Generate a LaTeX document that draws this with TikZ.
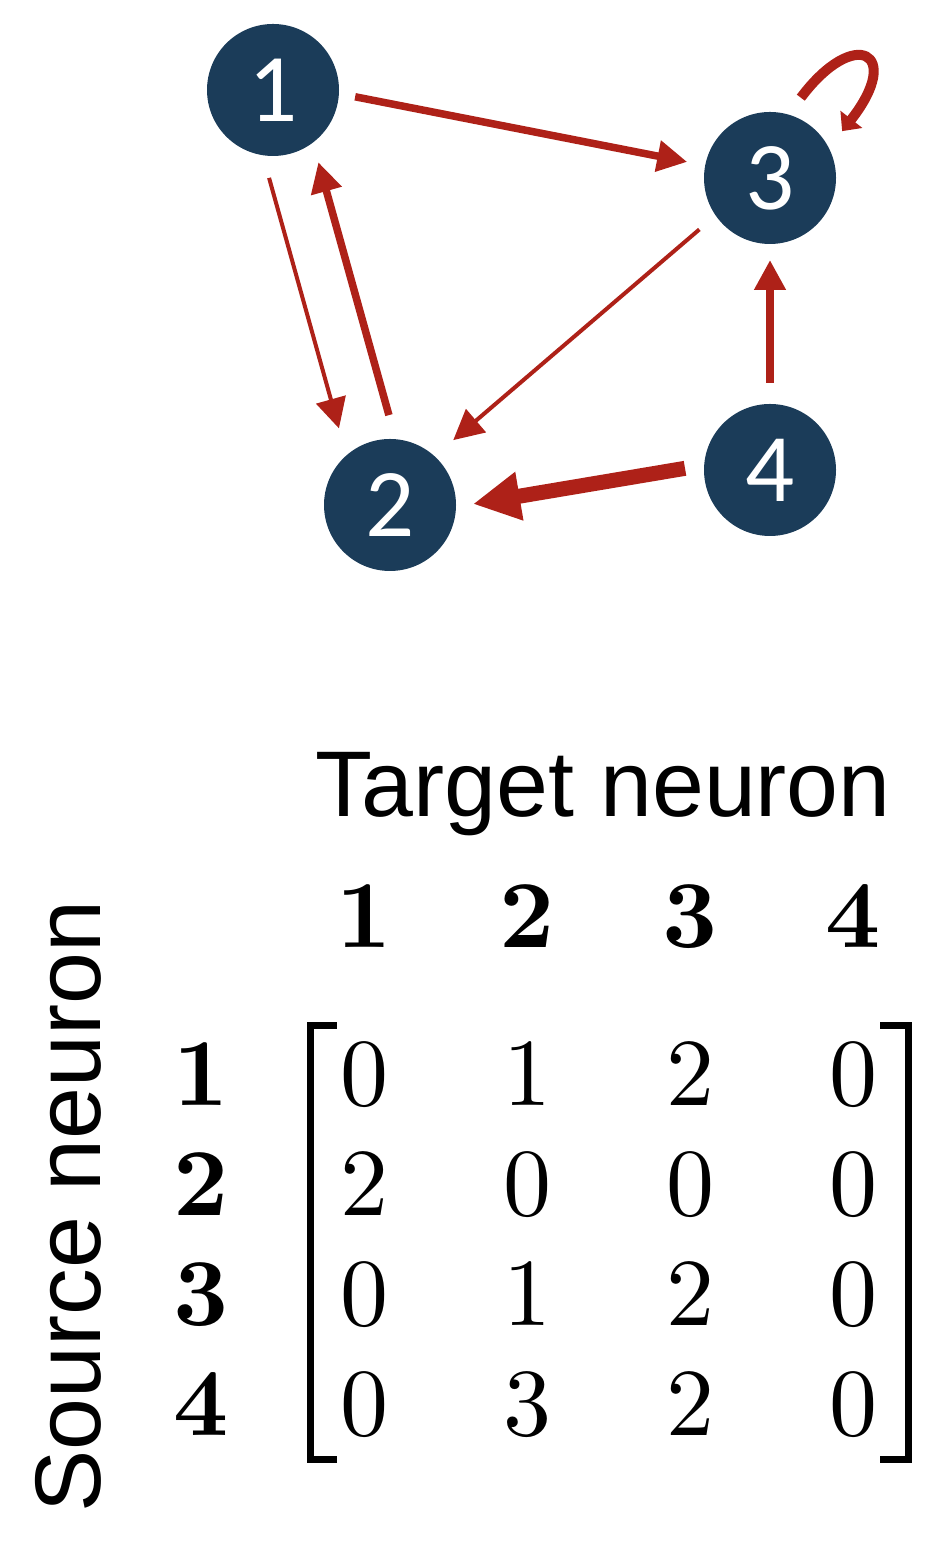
\documentclass[tikz,border=0pt]{standalone}
\usepackage{fontspec}
\newfontfamily\arialf{Liberation Sans}
\newfontfamily\calf{Carlito}
\newfontfamily\cmrf{lmroman10-regular.otf}
\newfontfamily\cmbxf{lmroman10-bold.otf}
\usetikzlibrary{arrows.meta}
\definecolor{nodeblue}{RGB}{27,60,89}
\definecolor{edgered}{RGB}{174,33,24}
\tikzset{
  neuron/.style={circle, fill=nodeblue, minimum size=132pt, inner sep=0pt, outer sep=20pt,
    text=white, font=\calf\fontsize{97}{97}\selectfont},
  thinedge/.style={draw=edgered, line width=4pt, -{Triangle[length=30pt,width=30pt]}},
  midedge/.style={draw=edgered, line width=7.5pt, -{Triangle[length=30pt,width=30pt]}},
  thickedge/.style={draw=edgered, line width=15pt, -{Triangle[length=47pt,width=46pt]}},
  loopedge/.style={draw=edgered, line width=10pt, -{Triangle[length=15pt,width=27pt]}},
  axlbl/.style={font=\arialf\fontsize{93.3}{93.3}\selectfont, inner sep=0pt, anchor=base},
  hdr/.style={font=\cmbxf\fontsize{96}{96}\selectfont, inner sep=0pt, anchor=base},
  ent/.style={font=\cmrf\fontsize{96}{96}\selectfont, inner sep=0pt, anchor=base},
  brk/.style={draw=black, line width=6.4pt}
}
\begin{document}
\begin{tikzpicture}[x=1pt,y=1pt]
\useasboundingbox (0,0) rectangle (952,1546);
% neurons
\node[neuron] (n1) at (273,1456) {1};
\node[neuron] (n2) at (390,1041) {2};
\node[neuron] (n3) at (770,1368) {3};
\node[neuron] (n4) at (770,1076) {4};
% connections
\draw[midedge, shorten <=-3.6pt, shorten >=-1.7pt] (n1.-5.6) -- (n3.169.8);
\draw[thinedge, shorten <=2.1pt, shorten >=6.4pt] (n1.-93.3) -- (n2.125.8);
\draw[midedge, shorten <=4pt, shorten >=-0.8pt] (n2.90) -- (n1.-58.9);
\draw[thinedge, shorten <=1.4pt, shorten >=4.6pt] (n3.-144.3) -- (n2.46.8);
\draw[midedge, shorten <=1pt, shorten >=-4pt] (n4.90) -- (n3.-90);
\draw[thickedge, shorten <=-1pt, shorten >=-3pt] (n4.179.3) -- (n2.1.4);
\draw[loopedge] (n3.69.7) .. controls +(54,72) and +(62,79) .. (n3.33.9);
% axis labels
\node[axlbl] (tgt) at (603,729) {Target neuron};
\node[axlbl, rotate=90] (src) at (100,339.5) {Source neuron};
% column headers
\node[hdr] (c1) at (364,598) {1};
\node[hdr] (c2) at (527,598) {2};
\node[hdr] (c3) at (690,598) {3};
\node[hdr] (c4) at (853,598) {4};
% row headers
\node[hdr] (r1) at (201.5,440) {1};
\node[hdr] (r2) at (201.5,330) {2};
\node[hdr] (r3) at (201.5,220) {3};
\node[hdr] (r4) at (201.5,110) {4};
% entries
\node[ent] (m11) at (364,440) {0};
\node[ent] (m12) at (527,440) {1};
\node[ent] (m13) at (690,440) {2};
\node[ent] (m14) at (853,440) {0};
\node[ent] (m21) at (364,330) {2};
\node[ent] (m22) at (527,330) {0};
\node[ent] (m23) at (690,330) {0};
\node[ent] (m24) at (853,330) {0};
\node[ent] (m31) at (364,220) {0};
\node[ent] (m32) at (527,220) {1};
\node[ent] (m33) at (690,220) {2};
\node[ent] (m34) at (853,220) {0};
\node[ent] (m41) at (364,110) {0};
\node[ent] (m42) at (527,110) {3};
\node[ent] (m43) at (690,110) {2};
\node[ent] (m44) at (853,110) {0};
% brackets
\draw[brk] (337,86.5) -- (310.3,86.5) -- (310.3,520.5) -- (337,520.5);
\draw[brk] (880,86.5) -- (908.4,86.5) -- (908.4,520.5) -- (880,520.5);
\end{tikzpicture}
\end{document}
